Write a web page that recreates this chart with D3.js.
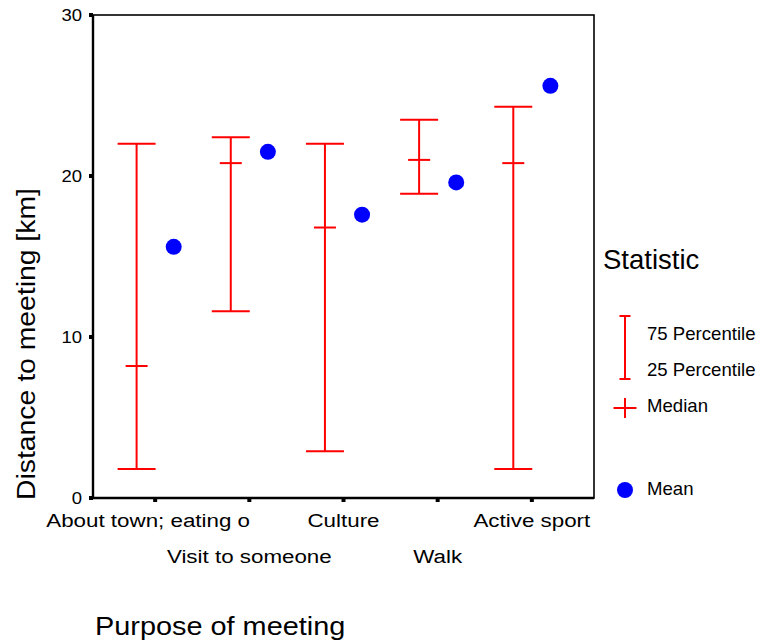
<!DOCTYPE html>
<html>
<head>
<meta charset="utf-8">
<script src="https://cdn.jsdelivr.net/npm/d3@7"></script>
<style>
  html, body { margin: 0; padding: 0; background: #fff; }
  text { font-family: "Liberation Sans", Arial, sans-serif; fill: #000; }
</style>
</head>
<body>
<svg id="chart" width="757" height="642"></svg>
<script>
// Distance to meeting by purpose: quartile bars, medians and means
const categories = ["About town; eating o", "Visit to someone", "Culture", "Walk", "Active sport"];
const p25    = [1.8, 11.6, 2.9, 18.9, 1.8];
const median = [8.2, 20.8, 16.8, 21.0, 20.8];
const p75    = [22.0, 22.4, 22.0, 23.5, 24.3];
const means  = [15.6, 21.5, 17.6, 19.6, 25.6];
const yTicks = [0, 10, 20, 30];

const svg = d3.select("#chart");
const box = { left: 93, right: 594, top: 15, bottom: 498 };

const x = d3.scalePoint().domain(categories).range([box.left, box.right]).padding(0.66);
const y = d3.scaleLinear().domain([0, 30]).range([box.bottom, box.top]);
const dodge = x.step() * 0.197;
const red = "#ff0000", blue = "#0000ff";

// stretch text horizontally by a factor
function widen(sel, f) {
  sel.each(function () {
    const w = this.getComputedTextLength();
    d3.select(this).attr("textLength", w * f).attr("lengthAdjust", "spacingAndGlyphs");
  });
}

const rows = categories.map((c, i) => ({ c, i, lo: p25[i], med: median[i], hi: p75[i], mean: means[i] }));

// frame
svg.append("rect")
  .attr("x", box.left).attr("y", box.top)
  .attr("width", box.right - box.left).attr("height", box.bottom - box.top)
  .attr("fill", "none").attr("stroke", "#000").attr("stroke-width", 1.6);
svg.append("line").attr("x1", box.left).attr("x2", box.left).attr("y1", box.top).attr("y2", box.bottom + 1)
  .attr("stroke", "#000").attr("stroke-width", 2.4);
svg.append("line").attr("x1", box.left - 1).attr("x2", box.right).attr("y1", box.bottom).attr("y2", box.bottom)
  .attr("stroke", "#000").attr("stroke-width", 2.4);

// y axis ticks and labels
const yAxis = svg.append("g");
yAxis.selectAll("rect").data(yTicks).join("rect")
  .attr("x", box.left - 4).attr("y", d => y(d) - 2).attr("width", 4).attr("height", 4).attr("fill", "#000");
yAxis.selectAll("text").data(yTicks).join("text")
  .attr("x", 82).attr("y", d => y(d)).attr("dy", "0.35em")
  .attr("text-anchor", "end").attr("font-size", 16.5).text(d => d)
  .call(widen, 1.12);

// x axis ticks and staggered labels (the truncated first label sits a little left)
const xAxis = svg.append("g");
xAxis.selectAll("rect").data(categories).join("rect")
  .attr("x", d => x(d) - 2).attr("y", box.bottom).attr("width", 4).attr("height", 4).attr("fill", "#000");
xAxis.selectAll("text").data(categories).join("text")
  .attr("x", d => x(d)).attr("y", (d, i) => i % 2 === 0 ? 527 : 563)
  .attr("dx", (d, i) => i === 0 ? -7 : 0)
  .attr("text-anchor", "middle").attr("font-size", 18.8).text(d => d)
  .call(widen, 1.19);

// axis titles
svg.append("text")
  .attr("transform", "translate(34.5," + (box.bottom + 2) + ") rotate(-90)")
  .attr("font-size", 26).text("Distance to meeting [km]")
  .call(widen, 1.09);
svg.append("text")
  .attr("x", 95).attr("y", 635)
  .attr("font-size", 26).text("Purpose of meeting")
  .call(widen, 1.11);

// interquartile bars with caps
const bars = svg.append("g").attr("stroke", red).attr("stroke-width", 2).attr("fill", "none");
const capHalf = 19, medHalf = 11;
rows.forEach(r => {
  const cx = x(r.c) - dodge;
  bars.append("line").attr("x1", cx).attr("x2", cx).attr("y1", y(r.hi)).attr("y2", y(r.lo));
  bars.append("line").attr("x1", cx - capHalf).attr("x2", cx + capHalf).attr("y1", y(r.hi)).attr("y2", y(r.hi));
  bars.append("line").attr("x1", cx - capHalf).attr("x2", cx + capHalf).attr("y1", y(r.lo)).attr("y2", y(r.lo));
  bars.append("line").attr("x1", cx - medHalf).attr("x2", cx + medHalf).attr("y1", y(r.med)).attr("y2", y(r.med));
});

// means
svg.append("g").selectAll("circle").data(rows).join("circle")
  .attr("cx", d => x(d.c) + dodge).attr("cy", d => y(d.mean)).attr("r", 8).attr("fill", blue);

// legend
const lg = svg.append("g");
lg.append("text").attr("x", 603).attr("y", 269).attr("font-size", 27.5).text("Statistic");
const lx = 625;
const lgBars = lg.append("g").attr("stroke", red).attr("stroke-width", 2);
lgBars.append("line").attr("x1", lx).attr("x2", lx).attr("y1", 316).attr("y2", 379);
lgBars.append("line").attr("x1", lx - 5.5).attr("x2", lx + 5.5).attr("y1", 316).attr("y2", 316);
lgBars.append("line").attr("x1", lx - 5.5).attr("x2", lx + 5.5).attr("y1", 379).attr("y2", 379);
lgBars.append("line").attr("x1", lx - 11.5).attr("x2", lx + 11.5).attr("y1", 408).attr("y2", 408);
lgBars.append("line").attr("x1", lx).attr("x2", lx).attr("y1", 398).attr("y2", 418);
lg.append("circle").attr("cx", lx).attr("cy", 490).attr("r", 8).attr("fill", blue);
const lgLabels = [["75 Percentile", 339.5], ["25 Percentile", 375.5], ["Median", 411.5], ["Mean", 494.5]];
lg.selectAll("text.item").data(lgLabels).join("text").attr("class", "item")
  .attr("x", 647).attr("y", d => d[1]).attr("font-size", 18.6).text(d => d[0]);
</script>
</body>
</html>
